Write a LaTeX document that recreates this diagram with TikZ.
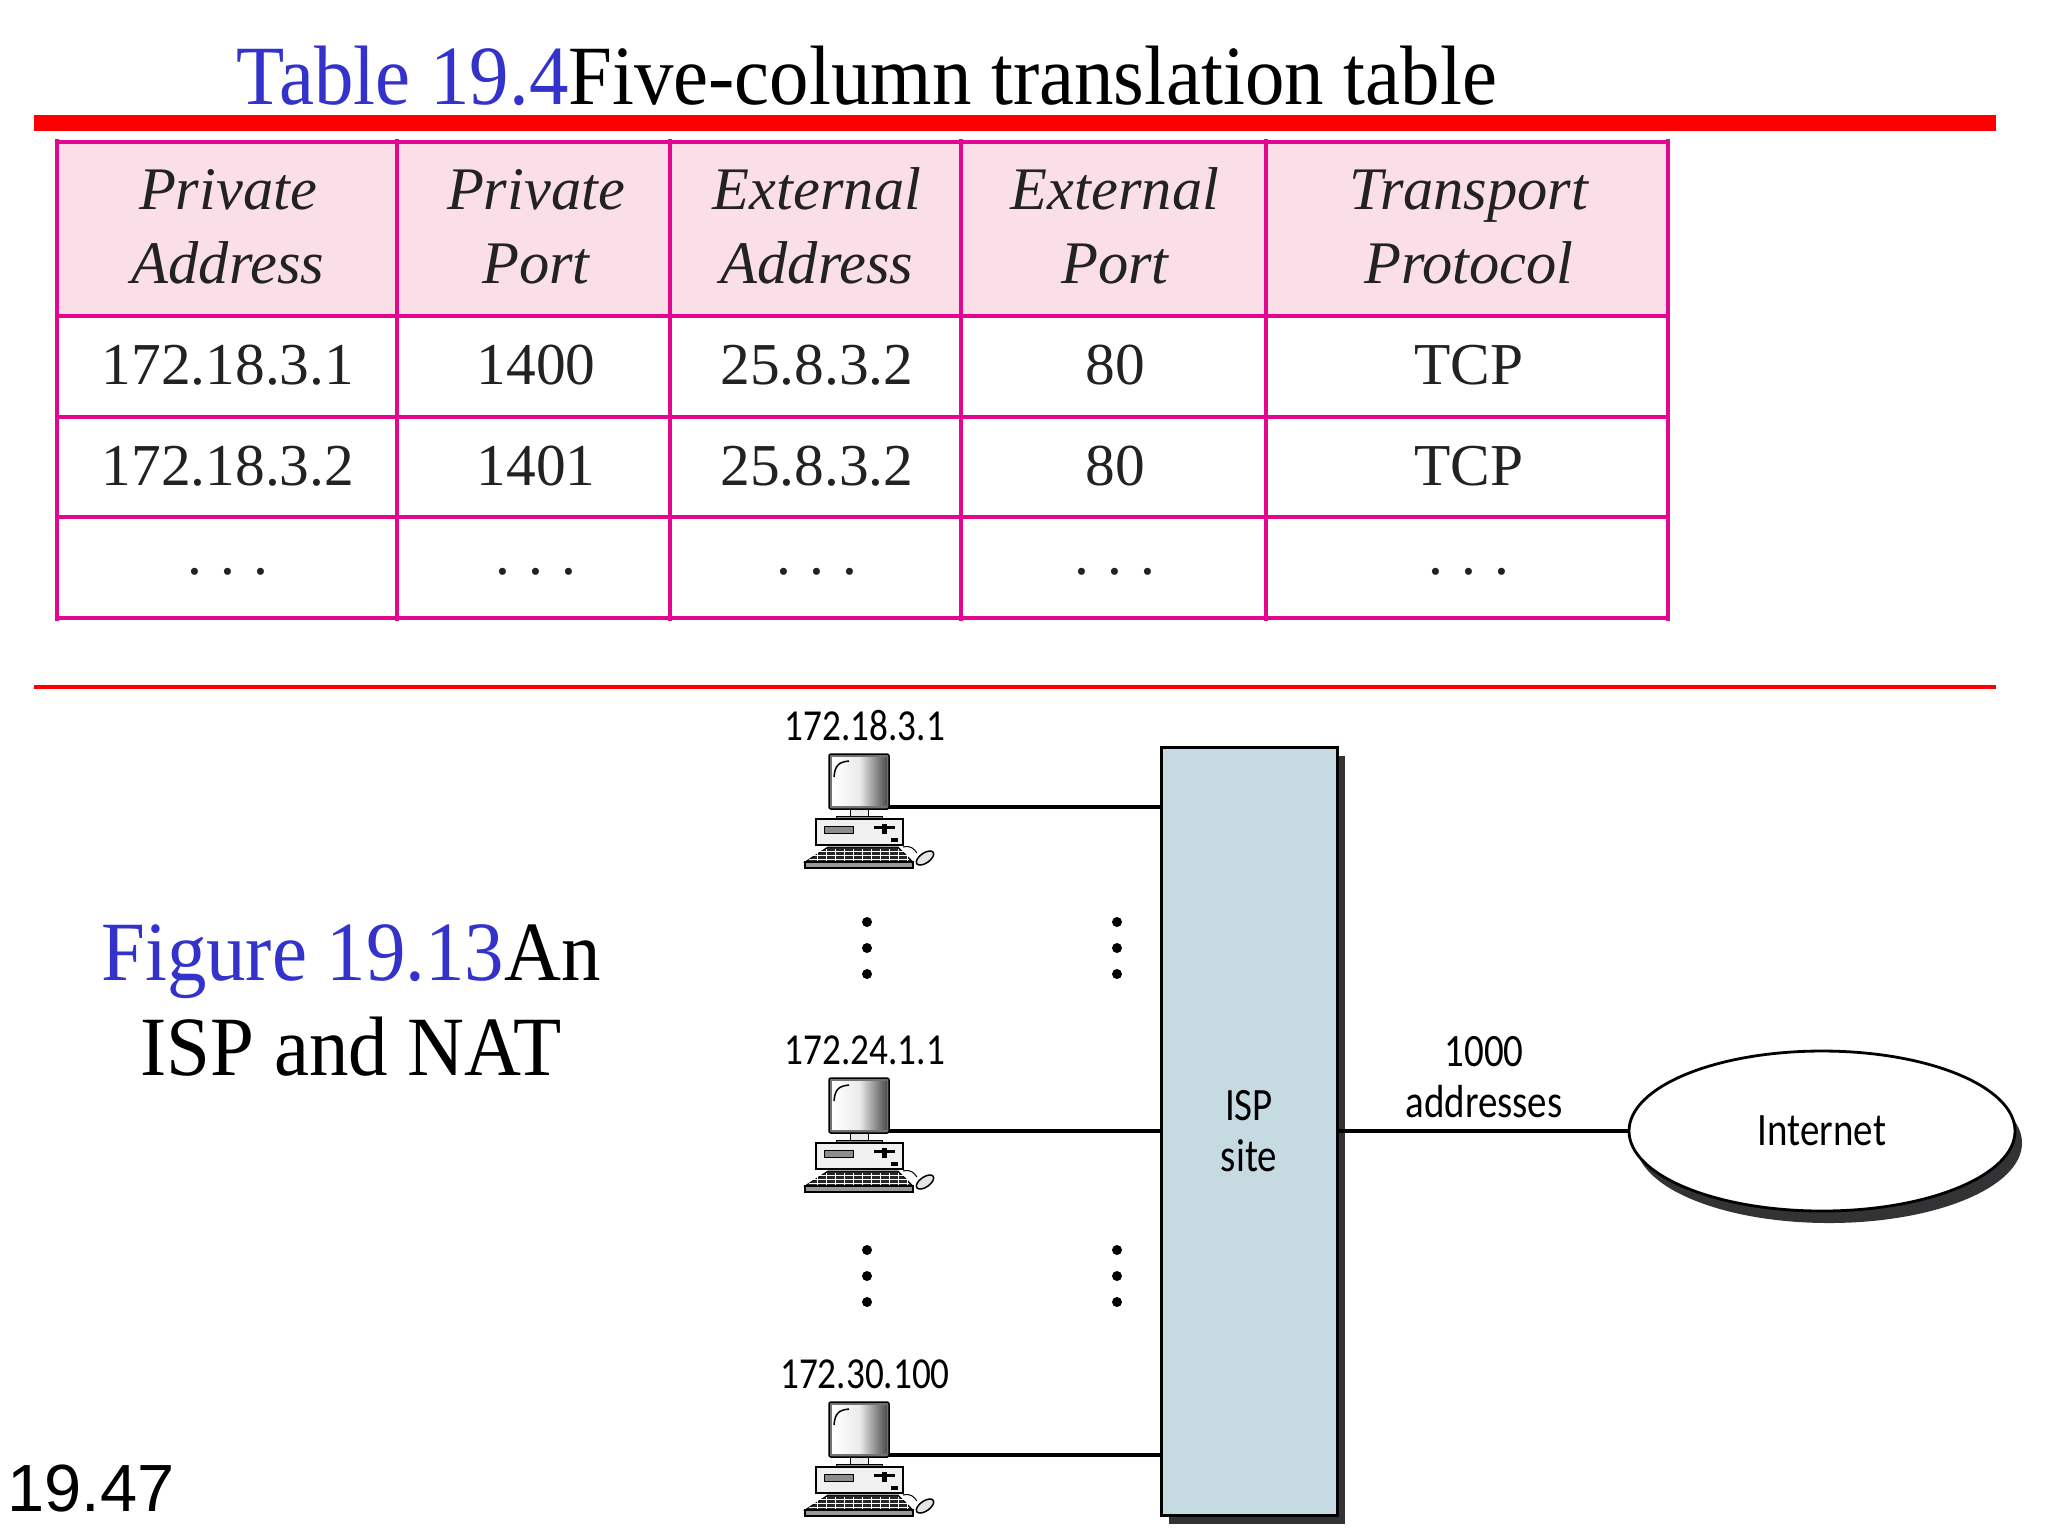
\documentclass[tikz,border=0pt]{standalone}
\usepackage{fontspec}
\setmainfont{Liberation Serif}
\newfontfamily\xtitlefont[FakeStretch=0.935]{Liberation Serif}
\newfontfamily\xlabelfont[FakeStretch=0.84]{Carlito}
\newfontfamily\xpagefont{Liberation Sans}
\definecolor{xblue}{HTML}{3333CC}
\definecolor{xpink}{HTML}{E3068F}
\definecolor{xhead}{HTML}{FADFE9}
\definecolor{xsite}{HTML}{C5DAE1}
\definecolor{xshadow}{HTML}{333336}
\definecolor{xtext}{HTML}{222222}
\usetikzlibrary{positioning, shapes, shadows}

\tikzset{
	xcell/.style={anchor=base, text=xtext, inner sep=0pt, font=\fontsize{16.9}{20}\selectfont},
	xhdr/.style={anchor=base, text=xtext, inner sep=0pt, font=\fontsize{17.2}{20}\selectfont\itshape},
	xtitle/.style={anchor=base west, inner sep=0pt, font=\fontsize{24}{28}\selectfont\xtitlefont},
	xlabel/.style={anchor=base, inner sep=0pt, font=\fontsize{12.6}{14}\selectfont\xlabelfont},
	xlink/.style={line width=0.38mm},
	xsitebox/.style={draw, line width=0.3mm, fill=xsite, minimum width=17.6mm, minimum height=76.8mm, align=center, font=\fontsize{13.2}{14.5}\selectfont\xlabelfont,
		drop shadow={shadow xshift=0.8mm, shadow yshift=-0.9mm, fill=xshadow, opacity=1}},
	xcloud/.style={draw, ellipse, line width=0.28mm, fill=white, minimum width=38.6mm, minimum height=16mm, inner sep=0pt, font=\fontsize{13.2}{14}\selectfont\xlabelfont,
		drop shadow={shadow xshift=0.7mm, shadow yshift=-1.2mm, fill=xshadow, opacity=1}}
}

\begin{document}
\begin{tikzpicture}[x=0.1mm, y=-0.1mm]

\useasboundingbox (0,0) rectangle (2048,1536);

\def \xtop{142}
\def \xbot{618}
\def \xleft{57}
\def \xright{1668}

\newcommand{\xcomp}[1]{
	\begin{scope}[shift={(#1)}, line width=0.1mm]
		\draw[fill=black!55, rounded corners=0.2mm, line width=0.15mm] (-60,-53) rectangle (0,2); % monitor
		\shade[left color=white, right color=black!70, middle color=black!8] (-57,-50) rectangle (-2,-2); % screen
		\draw[line width=0.15mm] (-55,-30) .. controls (-54,-42) and (-50,-45) .. (-40,-46);
		\draw[fill=black!8] (-39,2) rectangle (-21,9); % stand
		\draw[fill=black!45] (-53,9) rectangle (-7,12);
		\draw[fill=black!6, line width=0.15mm] (-73,12) rectangle (14,38); % case
		\draw[fill=black!45] (-65,19) rectangle (-36,26);
		\fill (-15,19) rectangle (6,22);
		\fill (-7,17) rectangle (-2,27);
		\fill (2,31) rectangle (9,35);
		\draw[fill=black!85] (-61,40) -- (9,40) -- (24,55) -- (-84,55) -- cycle; % keyboard
		\foreach \xk in {-72,-63,...,18} {
			\draw[white, line width=0.05mm] (\xk,42) -- (\xk,55);
		}
		\foreach \yk in {44,48,52} {
			\draw[white, line width=0.05mm] (-80,\yk) -- (20,\yk);
		}
		\draw[fill=black!40, line width=0.15mm] (-84,55) rectangle (24,61);
		\draw (14,40) .. controls (22,38) and (25,42) .. (28,46); % mouse
		\draw[fill=black!10, line width=0.15mm, rotate around={35:(36,51)}] (36,51) ellipse (10 and 5);
	\end{scope}
}

% title lines
\fill[red] (34,115) rectangle (1996,131);
\fill[red] (34,684.5) rectangle (1996,688.5);
\node[xtitle] (table title) at (236,104) {\textcolor{xblue}{Table 19.4}Five-column translation table};

% table
\fill[xhead] (\xleft,\xtop) rectangle (\xright,316);
\foreach \y in {142, 316, 417, 517, 618} {
	\draw[xpink, line width=0.4mm] (\xleft,\y) -- (\xright,\y); % row line
}
\foreach \x in {57, 397, 670, 961, 1266, 1668} {
	\draw[xpink, line width=0.4mm] (\x,\xtop-3) -- (\x,\xbot+3); % column line
}

\foreach \x/\xa/\xb/\xc/\xd/\xe [count=\n] in {
	228/Private/Address/172.18.3.1/172.18.3.2,
	536/Private/Port/1400/1401,
	817/External/Address/25.8.3.2/25.8.3.2,
	1115/External/Port/80/80,
	1469/Transport/Protocol/TCP/TCP} {
	\node[xhdr] (hdr a\n) at (\x,209) {\xa};
	\node[xhdr] (hdr b\n) at (\x,283) {\xb};
	\node[xcell] (row a\n) at (\x,384) {\xc};
	\node[xcell] (row b\n) at (\x,485) {\xd};
	\node[xcell] (row c\n) at (\x,574) {.\hspace{0.3em}.\hspace{0.3em}.};
}

% left side
\node[xtitle, anchor=base] (fig a) at (351,980) {\textcolor{xblue}{Figure 19.13}An};
\node[xtitle, anchor=base] (fig b) at (351,1075) {ISP and NAT};
\node[anchor=base west, inner sep=0pt, font=\fontsize{19}{22}\selectfont\xpagefont] (page no) at (7,1511) {19.47};

% network
\node[xsitebox] (isp) at (1249,1131) {ISP\\site};
\node[xcloud] (inet) at (1822,1131) {Internet};

\foreach \y/\xaddr [count=\n] in {807/172.18.3.1, 1131/172.24.1.1, 1455/172.30.100} {
	\xcomp{889,\y}
	\coordinate (comp \n) at (889,\y);
	\draw[xlink] (comp \n) -- (comp \n -| isp.west);
	\node[xlabel] (addr \n) at (865,\y-67) {\xaddr};
}

\foreach \x in {867, 1117} {
	\foreach \y in {922, 948, 974, 1250, 1276, 1302} {
		\fill (\x,\y) circle (5);
	}
}

\draw[xlink] (isp) -- (inet);
\node[xlabel, font=\fontsize{13.2}{14}\selectfont\xlabelfont] (num) at (1484,1066) {1000};
\node[xlabel, font=\fontsize{13.2}{14}\selectfont\xlabelfont] (num b) at (1484,1117) {addresses};

\end{tikzpicture}
\end{document}
